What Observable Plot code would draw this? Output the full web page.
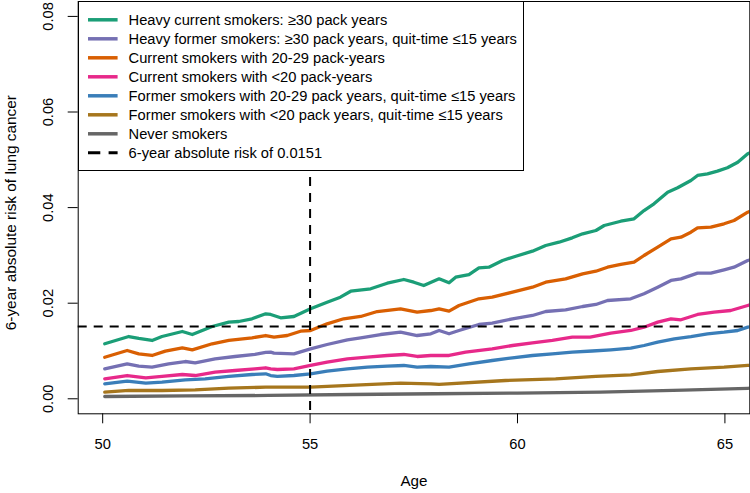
<!DOCTYPE html>
<html>
<head>
<meta charset="utf-8">
<script src="https://cdn.jsdelivr.net/npm/d3@7"></script>
<script src="https://cdn.jsdelivr.net/npm/@observablehq/plot@0.6"></script>
<style>
  html, body { margin: 0; padding: 0; background: #fff; }
  #wrap { position: relative; width: 750px; height: 493px; font-family: "Liberation Sans", Arial, sans-serif; }
  #legend { position: absolute; left: 77.7px; top: 0.5px; width: 446px; height: 170px; background: #fff; box-sizing: border-box; border: 1px solid #000; }
  #legend svg { position: absolute; left: -1px; top: -1px; overflow: visible; }
</style>
</head>
<body>
<div id="wrap"><div id="chart"></div><div id="legend"></div></div>
<script>
const seriesNames = [
  "Heavy current smokers: \u226530 pack years",
  "Heavy former smokers: \u226530 pack years, quit-time \u226415 years",
  "Current smokers with 20-29 pack-years",
  "Current smokers with <20 pack-years",
  "Former smokers with 20-29 pack years, quit-time \u226415 years",
  "Former smokers with <20 pack years, quit-time \u226415 years",
  "Never smokers"
];
const seriesColors = ["#1B9E77", "#7570B3", "#D95F02", "#E7298A", "#3A7EB9", "#A6761D", "#666666"];
const thresholdLabel = "6-year absolute risk of 0.0151";
const threshold = 0.0151;
const ageMark = 55;
const xTicks = [50, 55, 60, 65];
const yTicks = [0, 0.02, 0.04, 0.06, 0.08];

// Heavy current smokers
const heavyCurrentAge = [50.05,50.63,50.87,51.19,51.43,51.92,52.16,52.64,53.04,53.28,53.60,53.93,54.05,54.29,54.61,55.01,55.41,55.73,55.98,56.46,56.86,57.26,57.50,57.74,58.11,58.35,58.51,58.83,59.07,59.31,59.64,59.96,60.36,60.68,61.00,61.32,61.57,61.89,62.09,62.49,62.81,63.05,63.29,63.62,63.86,64.18,64.34,64.58,64.82,65.06,65.31,65.55,65.62];
const heavyCurrentRisk = [0.01151,0.01303,0.01262,0.01220,0.01303,0.01408,0.01345,0.01513,0.01603,0.01617,0.01674,0.01778,0.01764,0.01695,0.01722,0.01883,0.02021,0.02126,0.02251,0.02301,0.02418,0.02496,0.02439,0.02370,0.02510,0.02427,0.02544,0.02600,0.02741,0.02753,0.02893,0.02983,0.03088,0.03207,0.03276,0.03368,0.03452,0.03521,0.03626,0.03715,0.03766,0.03939,0.04079,0.04322,0.04414,0.04567,0.04672,0.04707,0.04762,0.04833,0.04950,0.05126,0.05150];

// Heavy former smokers
const heavyFormerAge = [50.05,50.59,50.87,51.19,51.59,51.99,52.23,52.71,53.19,53.67,53.93,54.05,54.13,54.61,55.01,55.41,55.90,56.22,56.70,57.18,57.58,57.91,58.11,58.35,58.59,59.07,59.39,59.88,60.36,60.68,61.16,61.57,61.89,62.17,62.73,63.05,63.38,63.70,63.94,64.34,64.66,64.98,65.22,65.55,65.62];
const heavyFormerRisk = [0.00628,0.00732,0.00682,0.00661,0.00732,0.00780,0.00753,0.00837,0.00885,0.00927,0.00969,0.00975,0.00954,0.00941,0.01046,0.01136,0.01234,0.01276,0.01345,0.01393,0.01324,0.01360,0.01429,0.01360,0.01429,0.01554,0.01582,0.01674,0.01743,0.01826,0.01862,0.01931,0.01973,0.02056,0.02092,0.02197,0.02335,0.02475,0.02510,0.02628,0.02628,0.02699,0.02753,0.02893,0.02910];

// Current smokers 20-29 pack-years
const current2029Age = [50.05,50.59,50.87,51.19,51.51,51.92,52.16,52.64,53.04,53.60,53.93,54.13,54.45,54.77,55.01,55.41,55.81,56.22,56.62,57.18,57.58,57.91,58.11,58.35,58.59,59.07,59.39,59.88,60.36,60.68,61.16,61.57,61.89,62.17,62.49,62.81,63.05,63.38,63.70,63.94,64.18,64.34,64.66,64.98,65.22,65.55,65.62];
const current2029Risk = [0.00870,0.01010,0.00941,0.00906,0.00996,0.01067,0.01025,0.01151,0.01220,0.01276,0.01324,0.01289,0.01324,0.01414,0.01429,0.01569,0.01674,0.01722,0.01826,0.01883,0.01812,0.01847,0.01883,0.01833,0.01952,0.02092,0.02126,0.02230,0.02335,0.02439,0.02510,0.02615,0.02669,0.02753,0.02810,0.02858,0.02998,0.03172,0.03347,0.03381,0.03485,0.03577,0.03590,0.03661,0.03730,0.03904,0.03930];

// Current smokers <20 pack-years
const currentLt20Age = [50.05,50.59,51.04,51.43,51.92,52.23,52.71,53.19,53.67,53.93,54.05,54.21,54.61,55.01,55.41,55.90,56.38,56.86,57.26,57.58,57.91,58.35,58.75,59.39,59.88,60.36,60.84,61.32,61.75,62.25,62.73,63.05,63.38,63.70,63.94,64.34,64.74,65.14,65.55,65.62];
const currentLt20Risk = [0.00418,0.00487,0.00439,0.00467,0.00508,0.00487,0.00556,0.00592,0.00628,0.00649,0.00628,0.00613,0.00628,0.00697,0.00766,0.00837,0.00870,0.00906,0.00927,0.00885,0.00906,0.00906,0.00975,0.01046,0.01115,0.01172,0.01220,0.01289,0.01290,0.01372,0.01429,0.01498,0.01603,0.01674,0.01653,0.01764,0.01812,0.01847,0.01952,0.01970];

// Former smokers 20-29 pack-years
const former2029Age = [50.05,50.59,51.04,51.43,51.99,52.47,53.04,53.60,53.93,54.05,54.21,54.61,55.01,55.41,55.90,56.38,56.86,57.26,57.58,57.91,58.35,58.83,59.39,59.88,60.36,60.84,61.32,61.80,62.25,62.73,63.05,63.38,63.78,64.18,64.58,64.98,65.31,65.55,65.62];
const former2029Risk = [0.00314,0.00368,0.00326,0.00347,0.00397,0.00418,0.00467,0.00508,0.00523,0.00487,0.00467,0.00487,0.00523,0.00577,0.00628,0.00661,0.00682,0.00697,0.00661,0.00676,0.00661,0.00732,0.00801,0.00858,0.00906,0.00941,0.00975,0.01000,0.01025,0.01059,0.01115,0.01184,0.01255,0.01303,0.01360,0.01394,0.01429,0.01498,0.01505];

// Former smokers <20 pack-years
const formerLt20Age = [50.05,50.63,51.43,52.23,53.04,53.93,55.01,56.22,57.18,57.91,58.11,59.71,60.92,61.89,62.73,63.38,64.18,64.98,65.55,65.62];
const formerLt20Risk = [0.00138,0.00174,0.00174,0.00188,0.00222,0.00243,0.00243,0.00293,0.00326,0.00314,0.00300,0.00383,0.00418,0.00467,0.00502,0.00571,0.00628,0.00661,0.00697,0.00700];

// Never smokers
const neverAge = [50.05,52.0,54.0,56.0,58.0,60.0,62.0,64.0,65.55,65.62];
const neverRisk = [0.00048,0.00060,0.00070,0.00090,0.00105,0.00120,0.00140,0.00180,0.00220,0.00222];

const ageArrays = [heavyCurrentAge, heavyFormerAge, current2029Age, currentLt20Age, former2029Age, formerLt20Age, neverAge];
const riskArrays = [heavyCurrentRisk, heavyFormerRisk, current2029Risk, currentLt20Risk, former2029Risk, formerLt20Risk, neverRisk];

const rows = [];
seriesNames.forEach((name, i) => {
  ageArrays[i].forEach((a, j) => rows.push({series: name, age: a, risk: riskArrays[i][j]}));
});
// draw order: never first, heavy current last
const drawOrder = [6,5,4,3,2,1,0].map(i => seriesNames[i]);

const fs = 14.7;
const chart = Plot.plot({
  width: 750,
  height: 493,
  marginLeft: 77.7,
  marginRight: 0.7,
  marginTop: 1,
  marginBottom: 79.7,
  style: {fontFamily: "'Liberation Sans', Arial, sans-serif", fontSize: fs + "px", color: "#000", background: "#fff"},
  x: {domain: [49.41, 65.60]},
  y: {domain: [-0.00314, 0.08312]},
  color: {domain: seriesNames, range: seriesColors},
  marks: [
    ...drawOrder.map(name => Plot.line(rows.filter(d => d.series === name), {
      x: "age", y: "risk", stroke: "series", strokeWidth: 3.3, clip: true, strokeLinejoin: "round"
    })),
    Plot.ruleY([threshold], {stroke: "#000", strokeWidth: 2, strokeDasharray: "9,7"}),
    Plot.ruleX([ageMark], {stroke: "#000", strokeWidth: 2, strokeDasharray: "9,7"}),
    Plot.frame({stroke: "#000", strokeWidth: 1}),
    Plot.axisX({ticks: xTicks, tickSize: 10, tickPadding: 15, fontSize: fs, label: null, tickFormat: d => String(d)}),
    Plot.axisY({ticks: yTicks, tickSize: 10, tickPadding: 15, tickRotate: -90, fontSize: fs, label: null, tickFormat: d3.format(".2f")}),
    Plot.text(["Age"], {frameAnchor: "bottom", dy: 72, fontSize: 15.2, text: d => d}),
    Plot.text(["6-year absolute risk of lung cancer"], {frameAnchor: "left", textAnchor: "middle", dx: -67, dy: 5, rotate: -90, fontSize: 15.4, text: d => d})
  ]
});
document.getElementById("chart").appendChild(chart);

// Legend (overlay box inside the plot area, top-left)
const legendEntries = seriesNames.map((n, i) => ({label: n, color: seriesColors[i], dash: null}))
  .concat([{label: thresholdLabel, color: "#000", dash: "12.3,8.3"}]);
const ns = "http://www.w3.org/2000/svg";
const lsvg = document.createElementNS(ns, "svg");
lsvg.setAttribute("width", 446); lsvg.setAttribute("height", 170);
legendEntries.forEach((e, i) => {
  const y = 18.8 + 19 * i;
  const ln = document.createElementNS(ns, "line");
  ln.setAttribute("x1", 10); ln.setAttribute("x2", 39.6);
  ln.setAttribute("y1", y); ln.setAttribute("y2", y);
  ln.setAttribute("stroke", e.color);
  ln.setAttribute("stroke-width", e.dash ? 3 : 3.5);
  if (e.dash) ln.setAttribute("stroke-dasharray", e.dash);
  lsvg.appendChild(ln);
  const t = document.createElementNS(ns, "text");
  t.setAttribute("x", 50.6); t.setAttribute("y", y);
  t.setAttribute("dy", "0.35em");
  t.setAttribute("font-size", fs);
  t.setAttribute("font-family", "'Liberation Sans', Arial, sans-serif");
  t.textContent = e.label;
  lsvg.appendChild(t);
});
document.getElementById("legend").appendChild(lsvg);
</script>
</body>
</html>
